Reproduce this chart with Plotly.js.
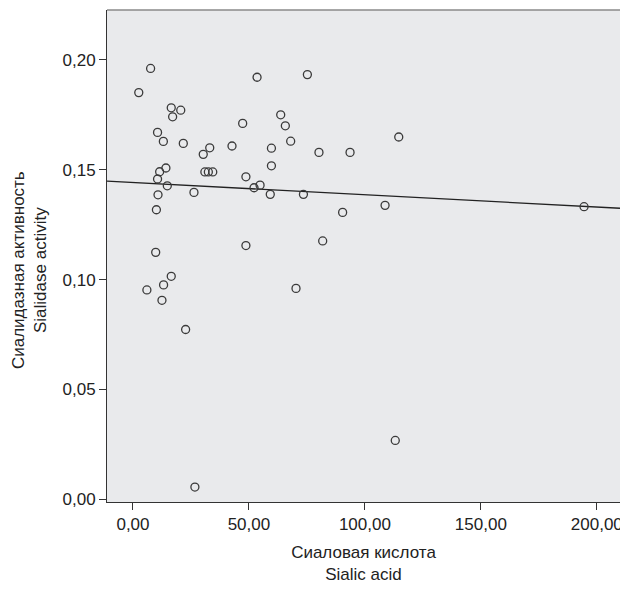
<!DOCTYPE html>
<html>
<head>
<meta charset="utf-8">
<script src="https://cdn.plot.ly/plotly-3.0.1.min.js"></script>
<style>
  html, body { margin: 0; padding: 0; background: #ffffff; }
  #chart { width: 620px; height: 590px; }
</style>
</head>
<body>
<div id="chart"></div>
<script>
// Sialic acid (x) vs sialidase activity (y)
const sialicAcid = [
  2.5, 7.6, 16.5, 20.6, 17.1, 10.6, 13.1, 21.7, 33.1, 30.3,
  14.2, 11.5, 31.0, 32.5, 34.4, 10.6, 14.8, 26.3, 10.8, 10.1,
  9.8, 16.5, 13.2, 6.0, 12.5, 22.7, 26.7, 53.5, 75.2, 63.7,
  65.7, 47.3, 68.0, 42.7, 59.7, 59.7, 48.7, 52.2, 54.8, 59.2,
  73.5, 48.7, 81.8, 114.6, 80.2, 93.6, 90.4, 108.7, 194.5, 113.1,
  70.3
];
const sialidaseActivity = [
  0.1851, 0.1961, 0.1782, 0.1771, 0.1741, 0.1670, 0.1629, 0.1620, 0.1600, 0.1570,
  0.1508, 0.1491, 0.1490, 0.1490, 0.1490, 0.1458, 0.1427, 0.1397, 0.1386, 0.1318,
  0.1124, 0.1015, 0.0976, 0.0953, 0.0906, 0.0773, 0.0056, 0.1921, 0.1933, 0.1750,
  0.1700, 0.1711, 0.1630, 0.1608, 0.1598, 0.1518, 0.1468, 0.1418, 0.1430, 0.1388,
  0.1388, 0.1155, 0.1176, 0.1649, 0.1579, 0.1579, 0.1306, 0.1338, 0.1332, 0.0268,
  0.0960
];
const xTickVals = [0, 50, 100, 150, 200];
const yTickVals = [0, 0.05, 0.10, 0.15, 0.20];
const xTitle = 'Сиаловая кислота<br>Sialic acid';
const yTitle = 'Сиалидазная активность<br>Sialidase activity';

const xRange = [-11.2, 210.0];
const yRange = [-0.0012, 0.2227];

// least-squares fit line computed from the data
const n = sialicAcid.length;
const mx = sialicAcid.reduce((a, b) => a + b, 0) / n;
const my = sialidaseActivity.reduce((a, b) => a + b, 0) / n;
let sxy = 0, sxx = 0;
for (let i = 0; i < n; i++) {
  sxy += (sialicAcid[i] - mx) * (sialidaseActivity[i] - my);
  sxx += (sialicAcid[i] - mx) * (sialicAcid[i] - mx);
}
const slope = sxy / sxx;
const intercept = my - slope * mx;
const fitX = xRange.slice();
const fitY = fitX.map(v => intercept + slope * v);

const font = "'Liberation Sans', Arial, sans-serif";

const traces = [
  {
    type: 'scatter', mode: 'lines', x: fitX, y: fitY,
    line: { color: '#222222', width: 1.3 }, hoverinfo: 'skip', showlegend: false
  },
  {
    type: 'scatter', mode: 'markers', x: sialicAcid, y: sialidaseActivity,
    marker: { symbol: 'circle-open', size: 8, color: '#3a3a3a', line: { width: 1.3, color: '#3a3a3a' } },
    showlegend: false
  }
];

const layout = {
  width: 620, height: 590,
  margin: { l: 107, r: 0, t: 10, b: 88 },
  paper_bgcolor: '#ffffff',
  plot_bgcolor: '#e9eaec',
  separators: ', ',
  font: { family: font, size: 17, color: '#222222' },
  showlegend: false,
  xaxis: {
    range: xRange, tickvals: xTickVals, tickformat: '.2f',
    showgrid: false, zeroline: false,
    showline: true, linecolor: '#333333', linewidth: 1,
    ticks: 'outside', ticklen: 7, tickwidth: 1, tickcolor: '#333333',
    ticklabeloverflow: 'allow',
    tickfont: { family: font, size: 17, color: '#222222' },
    title: { text: xTitle, font: { family: font, size: 17, color: '#222222' }, standoff: 12 }
  },
  yaxis: {
    range: yRange, tickvals: yTickVals, tickformat: '.2f',
    showgrid: false, zeroline: false,
    showline: true, linecolor: '#333333', linewidth: 1,
    ticks: 'outside', ticklen: 7, tickwidth: 1, tickcolor: '#333333',
    tickfont: { family: font, size: 17, color: '#222222' }
  },
  annotations: [
    { text: yTitle, xref: 'paper', yref: 'paper', x: -0.152, y: 0.4715,
      xanchor: 'center', yanchor: 'middle', textangle: -90, showarrow: false,
      align: 'center', font: { family: font, size: 17, color: '#222222' } }
  ],
  shapes: [
    { type: 'line', xref: 'paper', yref: 'paper', x0: 0, x1: 1, y0: 1, y1: 1,
      line: { color: '#8a8a8a', width: 1.5 } }
  ]
};

Plotly.newPlot('chart', traces, layout, { staticPlot: true, displayModeBar: false });
</script>
</body>
</html>
